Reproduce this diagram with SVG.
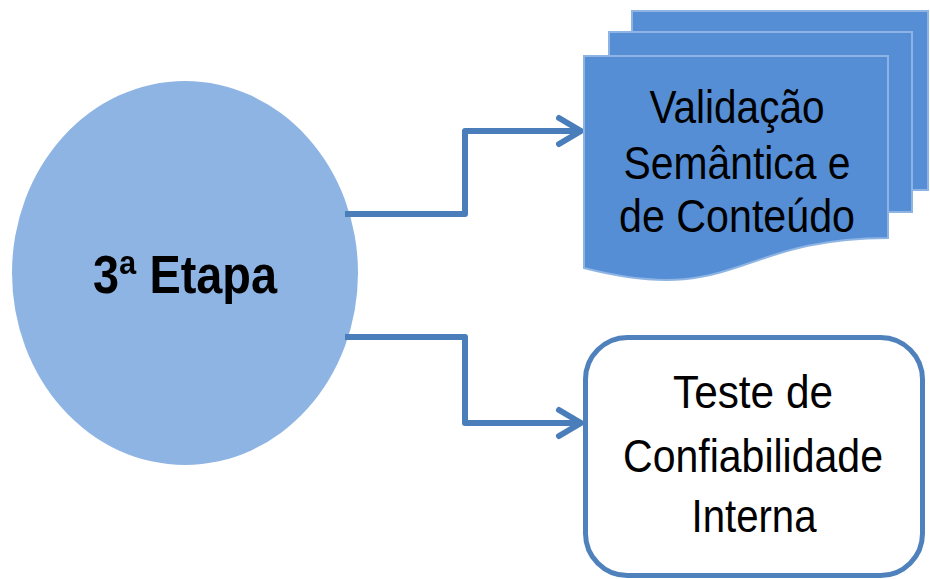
<svg xmlns="http://www.w3.org/2000/svg" width="930" height="579" viewBox="0 0 930 579">
<style>
.conn{fill:none;stroke:#4A7EBB;stroke-width:6;stroke-linejoin:round}
.head{fill:none;stroke:#4A7EBB;stroke-width:6;stroke-linecap:round;stroke-linejoin:round}
.doc{fill:#558ED5;stroke:#8EB4E3;stroke-width:2}
.t{font-family:"Liberation Sans",Arial,sans-serif;font-size:46px;fill:#000;text-anchor:middle}
</style>
<rect width="930" height="579" fill="#fff"/>
<g id="etapa">
<ellipse cx="185" cy="273" rx="173" ry="192" fill="#8EB4E3"/>
<text x="185" y="293" style="font-family:'Liberation Sans',Arial,sans-serif;font-size:53px;font-weight:bold;text-anchor:middle" textLength="184" lengthAdjust="spacingAndGlyphs">3ª Etapa</text>
</g>
<g id="connectors">
<polyline class="conn" points="345,214 465,214 465,131 580,131"/>
<polyline class="head" points="559,118 581,131 559,144"/>
<polyline class="conn" points="345,337 465,337 465,423 580,423"/>
<polyline class="head" points="559,410 581,423 559,436"/>
</g>
<g id="validacao">
<rect class="doc" x="632" y="11" width="296" height="179"/>
<rect class="doc" x="609" y="32" width="303" height="180"/>
<path class="doc" d="M584,56 H888 V238 C736,238 736,307 584,268 Z"/>
<text class="t" x="737" y="123" textLength="175" lengthAdjust="spacingAndGlyphs">Validação</text>
<text class="t" x="737" y="179" textLength="227" lengthAdjust="spacingAndGlyphs">Semântica e</text>
<text class="t" x="737" y="232" textLength="236" lengthAdjust="spacingAndGlyphs">de Conteúdo</text>
</g>
<g id="teste">
<rect x="585.5" y="337.5" width="337" height="238" rx="42" ry="42" fill="#fff" stroke="#4F81BD" stroke-width="5"/>
<text class="t" x="753" y="408" textLength="160" lengthAdjust="spacingAndGlyphs">Teste de</text>
<text class="t" x="753" y="472" textLength="260" lengthAdjust="spacingAndGlyphs">Confiabilidade</text>
<text class="t" x="754" y="532" textLength="125" lengthAdjust="spacingAndGlyphs">Interna</text>
</g>
</svg>
